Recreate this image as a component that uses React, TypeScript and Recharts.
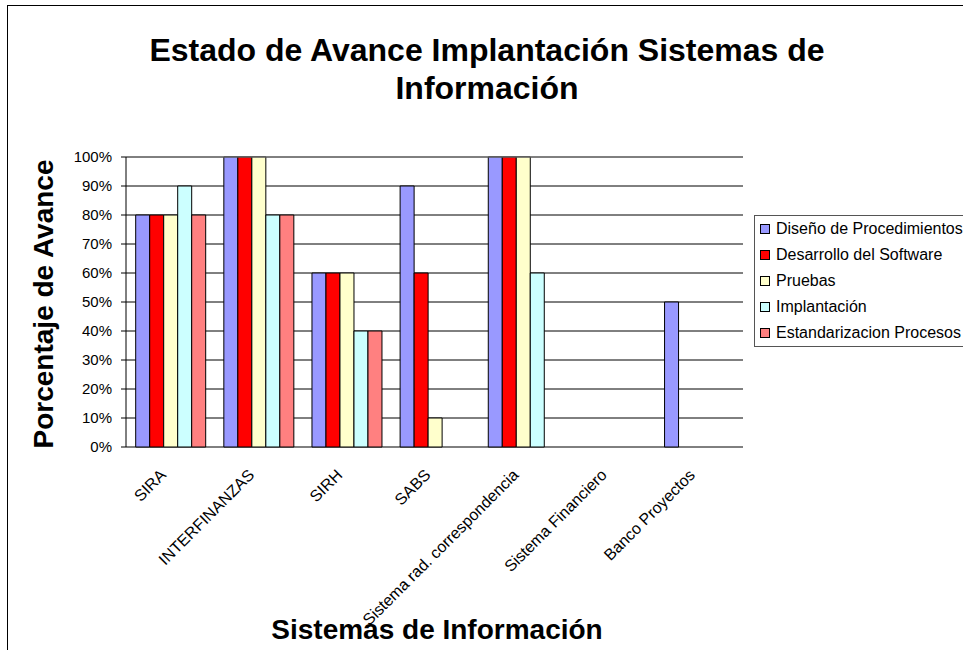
import { BarChart, Bar, XAxis, YAxis, CartesianGrid, ReferenceLine } from 'recharts'

const categories = [
  'SIRA',
  'INTERFINANZAS',
  'SIRH',
  'SABS',
  'Sistema rad. correspondencia',
  'Sistema Financiero',
  'Banco Proyectos',
]

// null = no bar drawn (Excel shows nothing for empty cells)
const diseno = [80, 100, 60, 90, 100, null, 50]
const desarrollo = [80, 100, 60, 60, 100, null, null]
const pruebas = [80, 100, 60, 10, 100, null, null]
const implantacion = [90, 80, 40, null, 60, null, null]
const estandarizacion = [80, 80, 40, null, null, null, null]

const yTicks = [0, 10, 20, 30, 40, 50, 60, 70, 80, 90, 100]
const boundaryTicks = [0, 1, 2, 3, 4, 5, 6, 7]

const series = [
  { key: 'diseno', name: 'Diseño de Procedimientos', color: '#9999FF', values: diseno },
  { key: 'desarrollo', name: 'Desarrollo del Software', color: '#FF0000', values: desarrollo },
  { key: 'pruebas', name: 'Pruebas', color: '#FFFFCC', values: pruebas },
  { key: 'implantacion', name: 'Implantación', color: '#CCFFFF', values: implantacion },
  { key: 'estandarizacion', name: 'Estandarizacion Procesos', color: '#FF8080', values: estandarizacion },
]

const data = categories.map((name, i) => {
  const row: Record<string, any> = { name }
  series.forEach((s) => {
    row[s.key] = s.values[i]
  })
  return row
})

const FONT = '"Liberation Sans", Arial, sans-serif'

function CategoryTick(props: any) {
  const { x, y, payload } = props
  const ax = x - 3
  const ay = y + 29
  return (
    <text
      x={ax}
      y={ay}
      transform={`rotate(-45 ${ax} ${ay})`}
      textAnchor="end"
      fontSize={16}
      fontFamily={FONT}
      fill="#000"
    >
      {payload.value}
    </text>
  )
}

function LegendBox() {
  return (
    <div
      style={{
        position: 'absolute',
        left: 754,
        top: 215,
        width: 230,
        border: '1px solid #555',
        background: '#fff',
        paddingLeft: 5,
        fontFamily: FONT,
        fontSize: 16,
        color: '#000',
      }}
    >
      {series.map((s) => (
        <div key={s.key} style={{ display: 'flex', alignItems: 'center', height: 26, whiteSpace: 'nowrap' }}>
          <span
            style={{
              display: 'inline-block',
              width: 8,
              height: 8,
              background: s.color,
              border: '1px solid #000',
              marginRight: 6,
            }}
          />
          {s.name}
        </div>
      ))}
    </div>
  )
}

export default function App() {
  return (
    <div style={{ position: 'relative', width: 963, height: 650, overflow: 'hidden', background: '#fff' }}>
      <style>{`body{margin:0}`}</style>
      <div
        style={{
          position: 'absolute',
          left: 7,
          top: 5,
          width: 1200,
          height: 1200,
          border: '1px solid #000',
        }}
      />
      <BarChart
        width={963}
        height={650}
        data={data}
        margin={{ top: 157, right: 220, left: 26, bottom: 0 }}
        barCategoryGap="11%"
        barGap={0}
      >
        <CartesianGrid xAxisId="cat" yAxisId="left" vertical={false} stroke="#000" strokeWidth={1} />
        <XAxis
          xAxisId="edge"
          type="number"
          domain={[0, 7]}
          ticks={boundaryTicks}
          allowDataOverflow
          height={0}
          tickSize={5}
          tickFormatter={() => ''}
          axisLine={{ stroke: '#000' }}
          tickLine={{ stroke: '#000' }}
        />
        <XAxis
          xAxisId="cat"
          dataKey="name"
          interval={0}
          height={203}
          axisLine={false}
          tickLine={false}
          tickSize={0}
          tickMargin={0}
          tick={<CategoryTick />}
        />
        <YAxis
          yAxisId="left"
          width={100}
          domain={[0, 100]}
          ticks={yTicks}
          interval={0}
          tickFormatter={(v) => `${v}%`}
          tickSize={5}
          tickMargin={9}
          axisLine={{ stroke: '#000' }}
          tickLine={{ stroke: '#000' }}
          tick={{ fill: '#000', fontSize: 15, fontFamily: FONT }}
        />
        <YAxis
          yAxisId="right"
          orientation="right"
          width={0}
          domain={[0, 100]}
          tick={false}
          tickLine={false}
          axisLine={{ stroke: '#808080' }}
        />
        <ReferenceLine xAxisId="cat" yAxisId="left" y={100} stroke="#808080" />
        {series.map((s) => (
          <Bar
            key={s.key}
            xAxisId="cat"
            yAxisId="left"
            dataKey={s.key}
            name={s.name}
            fill={s.color}
            stroke="#000"
            strokeWidth={1}
            isAnimationActive={false}
          />
        ))}
      </BarChart>
      <LegendBox />
      <svg
        width={963}
        height={650}
        style={{ position: 'absolute', left: 0, top: 0, pointerEvents: 'none' }}
        fontFamily={FONT}
      >
        <text x={487} y={61} textAnchor="middle" fontSize={32} fontWeight="bold" fill="#000">
          Estado de Avance Implantación Sistemas de
        </text>
        <text x={487} y={99} textAnchor="middle" fontSize={32} fontWeight="bold" fill="#000">
          Información
        </text>
        <text
          x={53}
          y={304}
          transform="rotate(-90 53 304)"
          textAnchor="middle"
          fontSize={28}
          fontWeight="bold"
          fill="#000"
        >
          Porcentaje de Avance
        </text>
        <text x={437} y={639} textAnchor="middle" fontSize={28} fontWeight="bold" fill="#000">
          Sistemas de Información
        </text>
      </svg>
    </div>
  )
}
